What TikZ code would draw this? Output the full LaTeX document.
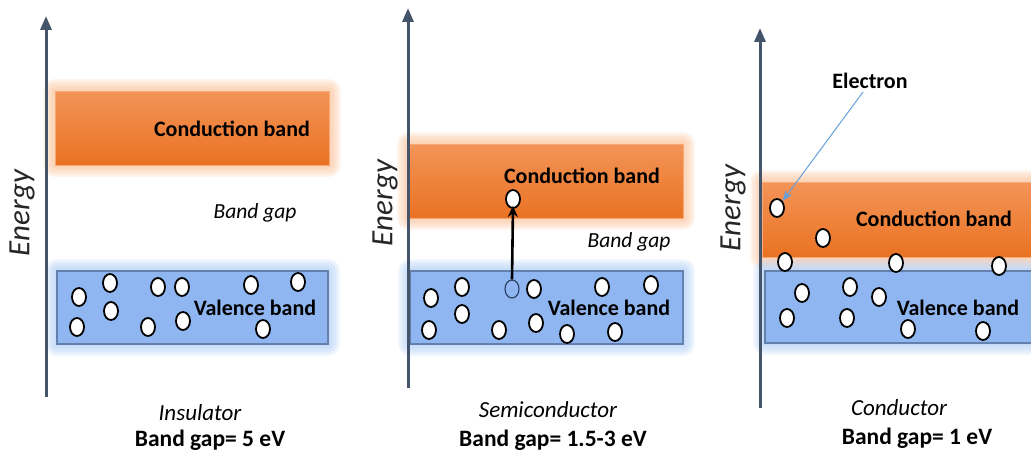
\documentclass[tikz,border=0pt]{standalone}
\usepackage{fontspec}
\setmainfont{Carlito}
\usetikzlibrary{shapes.geometric,arrows.meta,backgrounds,calc}
\definecolor{axisc}{RGB}{68,84,106}
\definecolor{cbtop}{RGB}{243,148,88}
\definecolor{cbbot}{RGB}{234,114,34}
\definecolor{cbedge}{RGB}{247,170,120}
\definecolor{cglow}{RGB}{250,185,140}
\definecolor{vbfill}{RGB}{143,182,240}
\definecolor{vbedge}{RGB}{100,128,172}
\definecolor{vglow}{RGB}{165,198,245}
\definecolor{holec}{RGB}{40,60,95}
\definecolor{arrowblue}{RGB}{100,160,220}
\newcommand{\bandglow}[2]{%
  \foreach \r in {12,10,...,2}{%
    \fill[#2,opacity=0.15,rounded corners=\r pt] ($(#1.north west)+(-\r,-\r)$) rectangle ($(#1.south east)+(\r,\r)$);}}
\begin{document}
\begin{tikzpicture}[x=1pt,y=-1pt,
  electron/.style={ellipse,draw=black,line width=1.8pt,fill=white,minimum width=14pt,minimum height=18pt,inner sep=0pt},
  hole/.style={ellipse,draw=holec,line width=1.1pt,minimum width=14pt,minimum height=18pt,inner sep=0pt},
  cband/.style={rectangle,inner sep=0pt,outer sep=0pt,top color=cbtop,bottom color=cbbot,draw=cbedge,line width=0.8pt},
  vband/.style={rectangle,inner sep=0pt,outer sep=0pt,fill=vbfill,draw=vbedge,line width=1.2pt},
  blabel/.style={font=\bfseries\fontsize{22}{24}\selectfont,inner sep=0pt},
  gaplabel/.style={font=\itshape\fontsize{21.5}{24}\selectfont,inner sep=0pt},
  energy/.style={font=\itshape\fontsize{31}{33}\selectfont,rotate=90,inner sep=0pt,text=black!85},
  matlabel/.style={font=\itshape\fontsize{23}{26}\selectfont,inner sep=0pt,anchor=base},
  bglabel/.style={font=\bfseries\fontsize{23.5}{26}\selectfont,inner sep=0pt,anchor=base},
  axis/.style={draw=axisc,line width=3pt,-{Triangle[length=14pt,width=11pt]}}
]
\useasboundingbox (0,0) rectangle (1031,452);

% ---------- Panel 1: Insulator ----------
\node[cband,minimum width=274pt,minimum height=74pt] (cb1) at (192,128) {};
\node[vband,minimum width=271pt,minimum height=73pt] (vb1) at (192.5,307.5) {};
\begin{scope}[on background layer]
  \bandglow{cb1}{cglow}
  \bandglow{vb1}{vglow}
\end{scope}
\coordinate (a1s) at (46,397);
\coordinate (a1e) at (46,16);
\draw[axis] (a1s) -- (a1e);
\node[energy] (en1) at (22,213) {Energy};
\node[blabel] (cbl1) at (232,129) {Conduction band};
\node[gaplabel] (gap1) at (255,213) {Band gap};
\node[blabel] (vbl1) at (255,308) {Valence band};
\foreach \n/\x/\y in {a/79/297,b/110/283,c/158/287,d/182/287,e/251/285,f/298/282,g/77/327,h/111/311,i/148/327,j/183/321,k/263/329}
  \node[electron] (e1\n) at (\x,\y) {};
\node[matlabel] (m1) at (200,420) {Insulator};
\node[bglabel] (g1) at (210,446.5) {Band gap= 5 eV};

% ---------- Panel 2: Semiconductor ----------
\node[cband,minimum width=274pt,minimum height=74pt] (cb2) at (546,181) {};
\node[vband,minimum width=273pt,minimum height=73pt] (vb2) at (546.5,307.5) {};
\begin{scope}[on background layer]
  \bandglow{cb2}{cglow}
  \bandglow{vb2}{vglow}
\end{scope}
\coordinate (a2s) at (408,388);
\coordinate (a2e) at (408,8);
\draw[axis] (a2s) -- (a2e);
\node[energy] (en2) at (385,203) {Energy};
\node[blabel] (cbl2) at (582,176) {Conduction band};
\node[gaplabel] (gap2) at (629,242) {Band gap};
\node[blabel] (vbl2) at (609,308) {Valence band};
\foreach \n/\x/\y in {a/431/298,b/462/287,c/534/289,d/602/287,e/651/285,f/429/330,g/462/314,h/499/330,i/536/323,j/567/334,k/615/332}
  \node[electron] (e2\n) at (\x,\y) {};
\node[electron] (e2up) at (513,199) {};
\node[hole] (h2) at (512,289) {};
\draw[line width=2.6pt,-{Stealth[length=11pt,width=10pt]}] (h2.north) -- ([yshift=3pt]e2up.south);
\node[matlabel] (m2) at (548,417) {Semiconductor};
\node[bglabel] (g2) at (553,446.5) {Band gap= 1.5-3 eV};

% ---------- Panel 3: Conductor ----------
\node[cband,minimum width=278pt,minimum height=75pt] (cb3) at (901,219.5) {};
\node[vband,minimum width=275pt,minimum height=72pt] (vb3) at (902.5,307) {};
\begin{scope}[on background layer]
  \bandglow{cb3}{cglow}
  \bandglow{vb3}{vglow}
\end{scope}
\coordinate (a3s) at (760,408);
\coordinate (a3e) at (760,28);
\draw[axis] (a3s) -- (a3e);
\node[energy] (en3) at (733,208) {Energy};
\node[blabel] (cbl3) at (934,219) {Conduction band};
\node[blabel] (vbl3) at (958,308) {Valence band};
\foreach \n/\x/\y in {a/777/208,b/823/238,c/785/262,d/896/263,e/999/266,f/802/293,g/850/287,h/879/297,i/787/318,j/847/318,k/908/329,l/983/331}
  \node[electron] (e3\n) at (\x,\y) {};
\node[blabel,inner sep=3pt] (elab) at (870,81) {Electron};
\draw[draw=arrowblue,line width=1pt,-{Stealth[length=11pt,width=8pt]}] ([xshift=-7pt]elab.south) -- (e3a.north east);
\node[matlabel] (m3) at (899,415) {Conductor};
\node[bglabel] (g3) at (917,444) {Band gap= 1 eV};
\end{tikzpicture}
\end{document}
